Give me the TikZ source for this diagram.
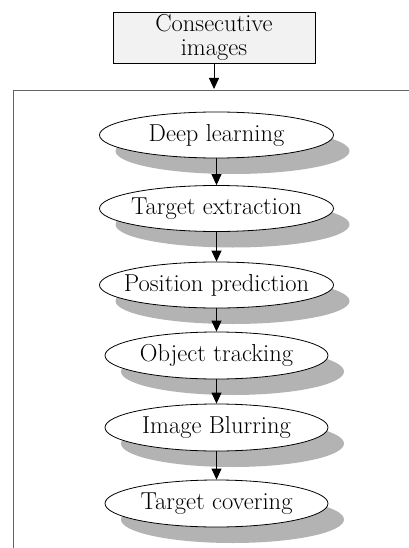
\documentclass[tikz,border=0pt]{standalone}
\usetikzlibrary{shapes.geometric,shadows,arrows.meta}
\definecolor{shadowgray}{RGB}{179,179,179}
\definecolor{boxfill}{RGB}{242,242,242}
\definecolor{framegray}{RGB}{100,100,100}
\newcommand{\fixw}[1]{\makebox[0pt]{#1}}
\tikzset{
  stage/.style={ellipse, draw=black, fill=white, line width=0.8pt, inner sep=0pt,
    font=\fontsize{24.5}{28}\selectfont,
    drop shadow={shadow xshift=16pt, shadow yshift=-16pt, fill=shadowgray, opacity=1, draw=none}},
  wide/.style={minimum width=234pt, minimum height=46pt},
  narrow/.style={minimum width=223pt, minimum height=47pt},
  inbox/.style={draw=black, fill=boxfill, line width=0.8pt, minimum width=202pt, minimum height=51pt,
    align=center, inner sep=0pt, font=\fontsize{24.5}{24.5}\selectfont},
  flow/.style={-{Triangle[length=11pt,width=10pt]}, line width=0.8pt},
}
\begin{document}
\begin{tikzpicture}[x=1pt,y=-1pt]
\useasboundingbox (0,0) rectangle (408,548);
\draw[framegray, line width=1.3pt] (13.5,560) -- (13.5,90.5) -- (420,90.5);
\node[inbox] (in) at (214,37.5) {Consecutive\\images};
\node[stage, wide] (s1) at (216.5,135) {\fixw{Deep learning}};
\node[stage, wide] (s2) at (216.5,208.5) {\fixw{Target extraction}};
\node[stage, wide] (s3) at (216.5,285) {\fixw{Position prediction}};
\node[stage, narrow] (s4) at (216.5,355.5) {\fixw{Object tracking}};
\node[stage, narrow] (s5) at (216.5,427.5) {\fixw{Image Blurring}};
\node[stage, narrow] (s6) at (216.5,503.5) {\fixw{Target covering}};
\coordinate (top) at (214,89);
\draw[flow] (in.south -| top) -- (top);
\draw[flow] (s1) -- (s2);
\draw[flow] (s2) -- (s3);
\draw[flow] (s3) -- (s4);
\draw[flow] (s4) -- (s5);
\draw[flow] (s5) -- (s6);
\end{tikzpicture}
\end{document}
